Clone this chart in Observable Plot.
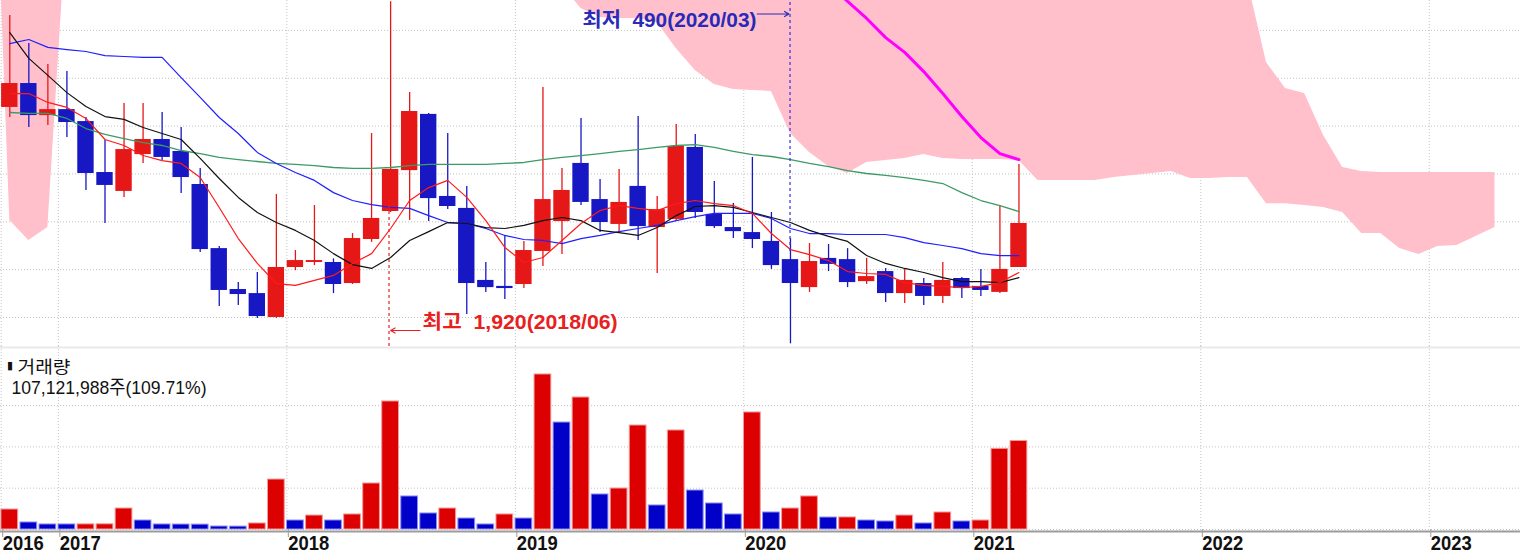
<!DOCTYPE html>
<html>
<head>
<meta charset="utf-8">
<script src="https://cdn.jsdelivr.net/npm/d3@7"></script>
<script src="https://cdn.jsdelivr.net/npm/@observablehq/plot@0.6"></script>
<style>
html, body { margin: 0; padding: 0; background: #fff; }
#chart { width: 1520px; height: 553px; overflow: hidden; }
#chart svg { display: block; }
</style>
</head>
<body>
<div id="chart"></div>
<script>
// ---------- DATA (monthly, 2016/10 .. 2021/03) ----------
const months = [
  "2016/10","2016/11","2016/12",
  "2017/01","2017/02","2017/03","2017/04","2017/05","2017/06","2017/07","2017/08","2017/09","2017/10","2017/11","2017/12",
  "2018/01","2018/02","2018/03","2018/04","2018/05","2018/06","2018/07","2018/08","2018/09","2018/10","2018/11","2018/12",
  "2019/01","2019/02","2019/03","2019/04","2019/05","2019/06","2019/07","2019/08","2019/09","2019/10","2019/11","2019/12",
  "2020/01","2020/02","2020/03","2020/04","2020/05","2020/06","2020/07","2020/08","2020/09","2020/10","2020/11","2020/12",
  "2021/01","2021/02","2021/03"
];
const open = [
  1478,1578,1444,1469,1419,1206,1127,1281,1344,1294,
  1156,888,717,700,600,809,830,830,742,926,
  1043,1214,1449,1106,1056,755,730,738,876,1001,
  1244,1093,989,1148,976,1010,1311,1031,976,955,
  918,842,725,847,842,750,792,700,742,688,
  763,730,705,809
];
const high = [
  1862,1745,1658,1628,1436,1340,1495,1495,1457,1394,
  1223,897,746,788,1114,880,1068,845,951,1369,
  1920,1540,1453,1369,1148,830,943,918,1561,1223,
  1432,1177,1219,1440,1106,1407,1365,1168,1077,1269,
  1039,930,909,905,888,847,805,801,763,830,
  767,801,1064,1240
];
const low = [
  1436,1394,1403,1352,1131,993,1102,1244,1256,1118,
  872,646,650,596,596,796,817,700,738,914,
  1039,1005,1001,1051,613,705,675,721,813,863,
  1068,955,955,922,784,1001,1014,972,930,888,
  801,490,705,792,725,738,663,659,650,659,
  679,688,700,809
];
const close = [
  1578,1444,1469,1415,1202,1152,1302,1344,1269,1185,
  884,713,696,604,809,838,838,738,930,1014,
  1219,1461,1097,1064,742,725,721,880,1093,1131,
  1081,997,1081,980,1051,1315,1039,980,959,926,
  817,742,834,822,746,771,700,755,688,755,
  721,713,801,993
];
const volume = [
  24200000,8500000,6100000,6100000,6200000,6300000,25400000,10900000,6100000,6000000,
  5900000,3600000,3500000,7300000,60500000,10900000,16900000,10900000,18200000,55700000,
  155000000,40000000,19400000,25400000,13300000,6100000,18200000,13300000,187700000,129500000,
  159800000,42400000,49600000,125900000,29100000,119900000,47200000,31500000,18200000,141700000,
  20600000,25400000,40000000,14500000,14600000,10900000,9700000,16900000,7300000,20600000,
  9700000,10900000,97640000,107121988
];
// volume bar colour: R = increase, B = decrease
const volDir = [
  "R","B","B","B","R","R","R","B","B","B",
  "B","B","B","R","R","B","R","B","R","R",
  "R","B","B","R","B","B","R","B","R","B",
  "R","B","R","R","B","R","B","B","B","R",
  "B","R","R","B","R","B","B","R","B","R",
  "B","R","R","R"
];
// moving averages (5, 10, 20, 60 months)
const ma5 = [
  1536,1536,1499,1478,1432,1344,1319,1277,1256,1244,
  1185,1060,930,826,742,734,755,776,826,867,
  972,1089,1143,1173,1102,1005,893,830,851,922,
  993,1047,1068,1056,1047,1076,1089,1076,1068,1035,
  951,884,863,838,792,784,780,746,734,730,
  725,730,746,788
];
const ma10 = [
  1791,1683,1612,1540,1482,1440,1428,1394,1369,1344,
  1265,1181,1102,1039,997,964,922,867,821,805,
  851,922,959,997,993,976,972,985,1005,1018,
  1005,964,955,943,976,1026,1064,1068,1060,1039,
  1018,997,964,939,918,859,826,805,788,767,
  750,750,746,767
];
const ma20 = [
  1745,1762,1729,1720,1712,1695,1691,1687,1687,1603,
  1520,1436,1369,1290,1244,1206,1173,1122,1089,1072,
  1060,1056,1026,997,993,972,943,926,922,909,
  930,943,959,972,985,1005,1022,1035,1035,1035,
  1014,972,951,951,947,947,947,934,913,901,
  888,867,859,859
];
const ma60 = [
  1457,1453,1453,1432,1390,1365,1348,1331,1319,1298,
  1285,1269,1260,1252,1244,1240,1235,1227,1223,1223,
  1227,1235,1240,1240,1240,1240,1244,1248,1260,1269,
  1277,1285,1294,1302,1311,1319,1323,1311,1294,1281,
  1273,1260,1244,1231,1214,1202,1194,1185,1173,1160,
  1122,1089,1068,1043
];
// magenta line (months 2020/05 .. 2021/03)
const magStart = 43;
const magenta = [1996,1921,1850,1770,1708,1628,1536,1440,1352,1285,1260];
// ichimoku cloud, month index -1 .. 78 (values above the top are estimates)
const cloudStart = -1;
const cloudLower = [
  3116,1005,922,976,2255,
  2400,2420,2430,2440,2440,2430,2420,2400,2380,2360,2340,2320,2300,2280,2260,2240,2220,2200,2180,2160,2140,2120,2100,2080,2050,
  1988,1892,1854,1850,1850,1833,1724,1632,1574,1553,
  1549,1545,1369,1290,1231,1202,1248,1256,1265,1281,
  1265,1260,1260,1260,1256,1173,1173,1173,1173,1185,
  1194,1202,1210,1181,1181,1185,1185,1076,1076,1068,
  1060,1039,951,951,888,863,897,901,939,976
];
const cloudUpper = [
  3300,3300,3250,3200,3150,3100,3050,3000,2980,2960,
  2940,2920,2900,2880,2860,2840,2820,2800,2780,2760,
  2740,2720,2700,2680,2660,2640,2620,2600,2580,2560,
  2540,2520,2500,2480,2460,2440,2420,2400,2380,2360,
  2340,2320,2300,2280,2260,2240,2220,2200,2180,2160,
  2140,2120,2100,2100,2100,2100,2100,2100,2100,2100,
  2100,2100,2100,2100,2080,2050,2009,1666,1557,1536,
  1361,1227,1210,1206,1206,1206,1206,1206,1206,1206
];
// x-axis labels and their month-index positions (left edge of January slot)
const yearLabels = ["2016","2017","2018","2019","2020","2021","2022","2023"];
const yearTickIdx = [-0.45, 2.55, 14.55, 26.55, 38.55, 50.55, 62.55, 74.55];
const priceGrid = [600, 800, 1000, 1200, 1400, 1600, 1800];
const volGrid = [0, 50000000, 100000000, 150000000];
const lowAnn = {i: 41, value: 490, label: "최저", date: "2020/03"};
const highAnn = {i: 20, value: 1920, label: "최고", date: "2018/06"};
const volLabel = "거래량";

(function () {
// ---------- STYLE ----------
const RED = "#e61717", BLUE = "#1717c4";
const VRED = "#dc0000", VBLUE = "#0000c8";
const PINK = "#ffc0cb";
const GRID = "#c4c4c4";
const FONT = "'Liberation Sans', 'Noto Sans CJK KR', sans-serif";
const xDomain = [-0.488, 79.34];
const yDomain = [478.8, 1925.06];
const vTop = 221560000;

const n = Math.min(cloudLower.length, cloudUpper.length);
const candles = months.map((m, i) => ({i, m, open: open[i], high: high[i], low: low[i], close: close[i],
  color: close[i] >= open[i] ? RED : BLUE}));
const cloud = cloudLower.slice(0, n).map((lo, k) => ({i: k + cloudStart, lower: lo, upper: cloudUpper[k]}));
const mag = magenta.map((v, k) => ({i: k + magStart, v}));
const fmt = d3.format(",");
const yearOf = new Map(yearTickIdx.map((t, k) => [t, yearLabels[k]]));

const gridStyle = {stroke: GRID, strokeOpacity: 1, strokeDasharray: "1,2"};

const priceSvg = Plot.plot({
  width: 1520, height: 346, margin: 0,
  x: {domain: xDomain, axis: null},
  y: {domain: yDomain, axis: null},
  color: {type: "identity"},
  marks: [
    Plot.gridY(priceGrid, gridStyle),
    Plot.gridX(yearTickIdx, gridStyle),
    Plot.areaY(cloud, {x: "i", y1: "lower", y2: "upper", fill: PINK, clip: true}),
    Plot.line(mag, {x: "i", y: "v", stroke: "#ff00ff", strokeWidth: 3, clip: true}),
    Plot.ruleX(candles, {x: "i", y1: "low", y2: "high", stroke: "color", strokeWidth: 1.3}),
    Plot.rect(candles, {x1: d => d.i - 0.43, x2: d => d.i + 0.43, y1: "open", y2: "close", fill: "color"}),
    Plot.line(ma60, {x: (d, i) => i, y: d => d, stroke: "#3c9a64", strokeWidth: 1.3}),
    Plot.line(ma20, {x: (d, i) => i, y: d => d, stroke: "#2020ff", strokeWidth: 1.2}),
    Plot.line(ma10, {x: (d, i) => i, y: d => d, stroke: "#111", strokeWidth: 1.2}),
    Plot.line(ma5, {x: (d, i) => i, y: d => d, stroke: "#ff1a1a", strokeWidth: 1.2}),
    // lowest annotation
    Plot.ruleX([lowAnn], {x: "i", y1: d => high[d.i], y2: yDomain[1], insetTop: 13, dx: -0.44, stroke: "#3434e0", strokeDasharray: "3,3", strokeWidth: 1.2}),
    Plot.arrow([lowAnn], {x1: d => d.i - 1.75, x2: d => d.i - 0.08, y1: yDomain[1], y2: yDomain[1], dy: 13.5, stroke: "#2a2ab8", strokeWidth: 1.1, headLength: 7}),
    Plot.text([lowAnn], {x: "i", frameAnchor: "top", dy: 12, dx: -34, textAnchor: "end",
      text: d => `${d.label}\u00a0 ${fmt(d.value)}(${d.date})`, fill: "#2a2ab8", fontSize: 20, fontWeight: "bold", fontFamily: FONT}),
    // highest annotation
    Plot.ruleX([highAnn], {x: "i", y1: yDomain[0], y2: d => low[d.i], insetBottom: 13, dx: -1.6, stroke: "#e82020", strokeDasharray: "3,3", strokeWidth: 1.2}),
    Plot.arrow([highAnn], {x1: d => d.i + 1.55, x2: d => d.i, y1: yDomain[0], y2: yDomain[0], dy: -16, stroke: "#e82020", strokeWidth: 1.1, headLength: 7}),
    Plot.text([highAnn], {x: "i", frameAnchor: "bottom", dy: -18, dx: 32, textAnchor: "start",
      text: d => `${d.label}\u00a0 ${fmt(d.value)}(${d.date})`, fill: "#e82020", fontSize: 20, fontWeight: "bold", fontFamily: FONT})
  ]
});

const volSvg = Plot.plot({
  width: 1520, height: 207, marginTop: 0, marginBottom: 24, marginLeft: 0, marginRight: 0,
  x: {domain: xDomain, axis: null},
  y: {domain: [0, vTop], axis: null},
  color: {type: "identity"},
  marks: [
    Plot.ruleY([vTop], {stroke: "#e9e9e9", strokeWidth: 2, dy: 1}),
    Plot.gridY(volGrid, gridStyle),
    Plot.gridX(yearTickIdx, gridStyle),
    Plot.rect(volume, {x1: (d, i) => i - 0.44, x2: (d, i) => i + 0.44, y1: 0, y2: d => d,
      fill: (d, i) => volDir[i] === "R" ? VRED : VBLUE,
      stroke: (d, i) => volDir[i] === "R" ? "#f29a9a" : "#8e8ef2", strokeWidth: 1}),
    Plot.ruleY([0], {dy: 2, stroke: "#9c9c9c", strokeWidth: 2}),
    Plot.axisX(yearTickIdx, {anchor: "bottom", tickSize: 8, tickPadding: -2, stroke: "#9c9c9c",
      tickFormat: d => yearOf.get(d), textAnchor: "start", dx: 1.5, fill: "#111",
      fontSize: 20, fontWeight: "bold", fontFamily: "'Liberation Sans Narrow', 'Liberation Sans', sans-serif", label: null}),
    Plot.text(["▮"], {frameAnchor: "top-left", dx: 6.5, dy: 15, fontSize: 11, fill: "#111", textAnchor: "start", fontFamily: "DejaVu Sans"}),
    Plot.text([volLabel], {frameAnchor: "top-left", dx: 17, dy: 14.5, fontSize: 17, fill: "#111", textAnchor: "start", fontFamily: FONT}),
    Plot.text([volume[volume.length - 1]], {frameAnchor: "top-left", dx: 11, dy: 34,
      text: d => `${fmt(d)}주(${(d / volume[volume.length - 2] * 100).toFixed(2)}%)`,
      fontSize: 19, fill: "#111", textAnchor: "start", fontFamily: FONT})
  ]
});

// text widths matched to the reference
const textWidths = new Map([
  ["최저\u00a0 490(2020/03)", 174], ["최고\u00a0 1,920(2018/06)", 195],
  ["거래량", 53], ["107,121,988주(109.71%)", 195]
]);
for (const y of yearLabels) textWidths.set(y, 41);
for (const svg of [priceSvg, volSvg]) {
  d3.select(svg).selectAll("text").each(function () {
    const w = textWidths.get(this.textContent);
    if (w) { this.setAttribute("textLength", w); this.setAttribute("lengthAdjust", "spacingAndGlyphs"); }
  });
}
const chart = document.getElementById("chart");
chart.appendChild(priceSvg);
chart.appendChild(volSvg);
})();
</script>
</body>
</html>
